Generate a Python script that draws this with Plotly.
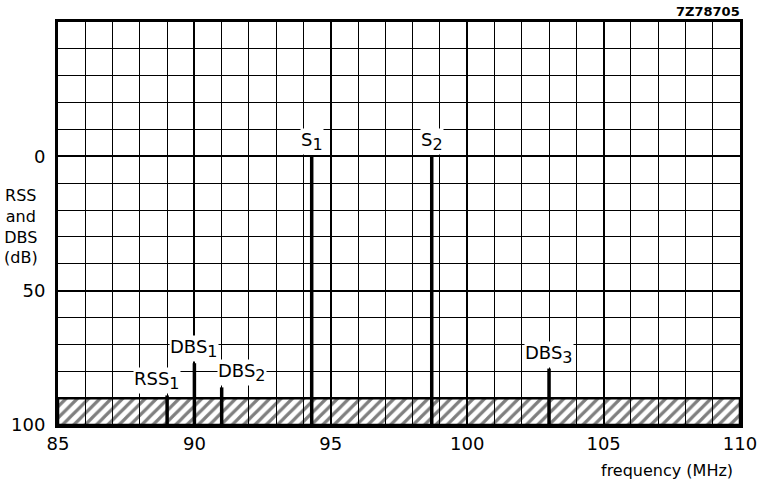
import plotly.graph_objects as go

# Data
signal_names = ["S", "S", "DBS", "DBS", "RSS", "DBS"]
signal_subs = ["1", "2", "1", "2", "1", "3"]
signal_freqs = [94.3, 98.7, 90.0, 91.0, 89.0, 103.0]   # MHz
signal_levels = [0, 0, 77, 86, 89, 79]                  # dB
label_xshift = [0, 0, 0, 20, -10, 0]
floor_band = [90, 100]                                  # hatched noise floor (dB)
x_ticks = [85, 90, 95, 100, 105, 110]
y_ticks = [0, 50, 100]

FONT = "DejaVu Sans"

fig = go.Figure()

# hatched floor band
fig.add_trace(go.Scatter(
    x=[85, 110, 110, 85, 85],
    y=[floor_band[0], floor_band[0], floor_band[1], floor_band[1], floor_band[0]],
    mode="lines", fill="toself",
    fillcolor="rgba(0,0,0,0)",
    fillpattern=dict(shape="/", fgcolor="black", bgcolor="rgba(255,255,255,0)",
                     size=8, solidity=0.4),
    line=dict(color="black", width=2.5),
    hoverinfo="skip", showlegend=False,
))

# spectral lines
xs, ys = [], []
for f, lv in zip(signal_freqs, signal_levels):
    xs += [f, f, None]
    ys += [lv, 100, None]
fig.add_trace(go.Scatter(x=xs, y=ys, mode="lines",
                         line=dict(color="black", width=3.5),
                         hoverinfo="skip", showlegend=False))

for name, sub, f, lv, dx in zip(signal_names, signal_subs, signal_freqs,
                                signal_levels, label_xshift):
    fig.add_annotation(x=f, y=lv, xref="x", yref="y",
                       text=f"{name}<sub><span style='font-size:16px'>{sub}</span></sub>",
                       showarrow=False,
                       xanchor="center", yanchor="bottom", xshift=dx, yshift=1,
                       bgcolor="white", borderpad=0,
                       font=dict(family=FONT, size=18, color="black"))

fig.add_annotation(x=-0.054, y=26, xref="paper", yref="y",
                   text="RSS<br>and<br>DBS<br>(dB)", showarrow=False,
                   xanchor="center", yanchor="middle", align="center",
                   font=dict(family=FONT, size=16, color="black"))
fig.add_annotation(x=0.993, y=-0.112, xref="paper", yref="paper",
                   text="frequency (MHz)", showarrow=False,
                   xanchor="right", yanchor="middle",
                   font=dict(family=FONT, size=16, color="black"))
fig.add_annotation(x=1.003, y=1.027, xref="paper", yref="paper",
                   text="<b>7Z78705</b>", showarrow=False,
                   xanchor="right", yanchor="middle",
                   font=dict(family=FONT, size=13, color="black"))

fig.update_xaxes(range=[85, 110], tickvals=x_ticks, ticks="", ticklen=0,
                 automargin=False, ticklabeloverflow="allow",
                 showgrid=True, gridcolor="black", gridwidth=2,
                 minor=dict(dtick=1, showgrid=True, gridcolor="black", gridwidth=1),
                 showline=True, linecolor="black", linewidth=3, mirror=True,
                 zeroline=False,
                 tickfont=dict(family=FONT, size=18, color="black"))
fig.update_yaxes(range=[100, -50], tickvals=y_ticks, ticks="outside", ticklen=6,
                 tickcolor="white", automargin=False, ticklabeloverflow="allow",
                 showgrid=True, gridcolor="black", gridwidth=2,
                 minor=dict(dtick=10, showgrid=True, gridcolor="black", gridwidth=1),
                 showline=True, linecolor="black", linewidth=3, mirror=True,
                 zeroline=False,
                 tickfont=dict(family=FONT, size=18, color="black"))

fig.update_layout(width=760, height=488,
                  margin=dict(l=58, r=20, t=22, b=63),
                  paper_bgcolor="white", plot_bgcolor="white",
                  showlegend=False)

fig.write_html("out.html")
